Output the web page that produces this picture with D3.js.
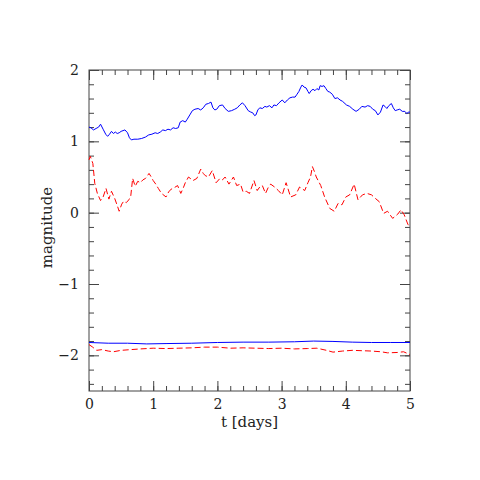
<!DOCTYPE html>
<html>
<head>
<meta charset="utf-8">
<style>
  body { margin: 0; background: #fff; }
  text { font-family: "DejaVu Serif", "Liberation Serif", serif; }
</style>
</head>
<body>
<svg id="chart" width="480" height="480"></svg>
<script src="https://cdnjs.cloudflare.com/ajax/libs/d3/7.8.5/d3.min.js"></script>
<script>
// upper blue curve
var blueTopT = [0, 0.03, 0.07, 0.11, 0.15, 0.18, 0.22, 0.26, 0.29, 0.32, 0.35, 0.38, 0.41, 0.44, 0.47, 0.5, 0.53, 0.56, 0.6, 0.63, 0.66, 0.7, 0.76, 0.82, 0.88, 0.93, 0.98, 1.03, 1.07, 1.11, 1.15, 1.19, 1.23, 1.27, 1.31, 1.35, 1.39, 1.42, 1.46, 1.5, 1.53, 1.57, 1.61, 1.65, 1.7, 1.74, 1.78, 1.82, 1.86, 1.9, 1.93, 1.96, 1.99, 2.03, 2.08, 2.12, 2.17, 2.22, 2.27, 2.31, 2.35, 2.39, 2.43, 2.48, 2.52, 2.55, 2.58, 2.6, 2.63, 2.66, 2.7, 2.74, 2.77, 2.81, 2.85, 2.88, 2.92, 2.96, 3.01, 3.05, 3.09, 3.13, 3.17, 3.21, 3.24, 3.27, 3.3, 3.32, 3.35, 3.38, 3.41, 3.43, 3.46, 3.49, 3.52, 3.55, 3.58, 3.6, 3.63, 3.66, 3.69, 3.72, 3.75, 3.79, 3.83, 3.87, 3.91, 3.95, 4.01, 4.06, 4.11, 4.16, 4.21, 4.25, 4.3, 4.34, 4.38, 4.42, 4.46, 4.5, 4.54, 4.58, 4.61, 4.64, 4.67, 4.71, 4.74, 4.77, 4.8, 4.84, 4.88, 4.92, 4.95, 4.98, 5];
var blueTopM = [1.2, 1.19, 1.16, 1.18, 1.2, 1.24, 1.17, 1.1, 1.07, 1.1, 1.14, 1.11, 1.13, 1.11, 1.12, 1.14, 1.15, 1.16, 1.12, 1.05, 1.02, 1.03, 1.03, 1.04, 1.06, 1.09, 1.1, 1.12, 1.11, 1.13, 1.16, 1.15, 1.17, 1.16, 1.19, 1.18, 1.19, 1.27, 1.29, 1.27, 1.31, 1.37, 1.43, 1.45, 1.46, 1.44, 1.47, 1.52, 1.53, 1.55, 1.47, 1.44, 1.45, 1.5, 1.51, 1.46, 1.42, 1.43, 1.45, 1.47, 1.51, 1.54, 1.5, 1.43, 1.41, 1.4, 1.36, 1.37, 1.44, 1.47, 1.46, 1.49, 1.48, 1.5, 1.47, 1.51, 1.5, 1.54, 1.58, 1.54, 1.58, 1.61, 1.62, 1.62, 1.66, 1.7, 1.76, 1.79, 1.76, 1.75, 1.7, 1.67, 1.71, 1.73, 1.71, 1.74, 1.72, 1.78, 1.77, 1.78, 1.74, 1.7, 1.69, 1.66, 1.6, 1.61, 1.58, 1.56, 1.51, 1.49, 1.45, 1.42, 1.45, 1.49, 1.48, 1.5, 1.49, 1.45, 1.43, 1.37, 1.41, 1.51, 1.49, 1.46, 1.5, 1.53, 1.47, 1.43, 1.44, 1.45, 1.42, 1.42, 1.39, 1.41, 1.41];

// middle red curve (dashed)
var redMidT = [0, 0.02, 0.06, 0.09, 0.13, 0.18, 0.22, 0.265, 0.31, 0.35, 0.38, 0.4, 0.44, 0.47, 0.51, 0.54, 0.58, 0.62, 0.65, 0.68, 0.72, 0.76, 0.8, 0.84, 0.88, 0.935, 0.97, 1.0, 1.04, 1.08, 1.13, 1.2, 1.24, 1.28, 1.31, 1.38, 1.43, 1.47, 1.5, 1.55, 1.62, 1.68, 1.74, 1.78, 1.81, 1.86, 1.92, 1.98, 2.04, 2.08, 2.12, 2.18, 2.25, 2.3, 2.36, 2.4, 2.45, 2.5, 2.57, 2.62, 2.66, 2.7, 2.75, 2.79, 2.83, 2.89, 2.95, 3.01, 3.07, 3.14, 3.22, 3.28, 3.36, 3.41, 3.45, 3.48, 3.51, 3.54, 3.61, 3.67, 3.75, 3.82, 3.88, 3.94, 4.0, 4.06, 4.13, 4.19, 4.26, 4.33, 4.4, 4.46, 4.52, 4.59, 4.65, 4.73, 4.81, 4.86, 4.91, 4.97, 5];
var redMidM = [0.74, 0.79, 0.69, 0.41, 0.27, 0.17, 0.22, 0.34, 0.19, 0.3, 0.24, 0.2, 0.1, 0.02, 0.12, 0.16, 0.14, 0.18, 0.23, 0.48, 0.37, 0.44, 0.42, 0.46, 0.48, 0.55, 0.5, 0.45, 0.4, 0.34, 0.27, 0.22, 0.29, 0.33, 0.34, 0.38, 0.27, 0.35, 0.42, 0.5, 0.45, 0.48, 0.61, 0.55, 0.52, 0.5, 0.59, 0.42, 0.48, 0.46, 0.5, 0.4, 0.5, 0.38, 0.4, 0.29, 0.3, 0.27, 0.45, 0.31, 0.36, 0.38, 0.27, 0.35, 0.4, 0.36, 0.31, 0.25, 0.42, 0.22, 0.25, 0.36, 0.31, 0.42, 0.5, 0.645, 0.58, 0.5, 0.38, 0.22, 0.06, 0.02, 0.13, 0.11, 0.22, 0.25, 0.4, 0.18, 0.25, 0.27, 0.25, 0.2, 0.155, -0.01, 0.02, -0.08, -0.02, 0.04, -0.03, -0.17, -0.18];

// lower blue curve
var blueLowT = [0, 0.3, 0.6, 0.9, 1.2, 1.6, 2.0, 2.4, 2.8, 3.2, 3.5, 3.8, 4.1, 4.4, 4.7, 5];
var blueLowM = [-1.82, -1.83, -1.83, -1.84, -1.835, -1.83, -1.82, -1.815, -1.815, -1.81, -1.8, -1.805, -1.815, -1.82, -1.82, -1.82];

// lower red curve (dashed)
var redLowT = [0, 0.05, 0.12, 0.2, 0.3, 0.38, 0.5, 0.65, 0.8, 1.0, 1.2, 1.4, 1.6, 1.8, 2.0, 2.2, 2.4, 2.6, 2.8, 3.0, 3.2, 3.4, 3.55, 3.7, 3.8, 3.95, 4.1, 4.25, 4.4, 4.55, 4.65, 4.8, 4.9, 5];
var redLowM = [-1.85, -1.88, -1.93, -1.92, -1.94, -1.95, -1.93, -1.92, -1.91, -1.9, -1.905, -1.9, -1.895, -1.885, -1.885, -1.9, -1.895, -1.9, -1.905, -1.9, -1.91, -1.905, -1.9, -1.93, -1.955, -1.94, -1.93, -1.935, -1.94, -1.95, -1.965, -1.96, -1.95, -1.99];

var xTicks = [0, 1, 2, 3, 4, 5];
var yTicks = [-2, -1, 0, 1, 2];

var plotL = 89, plotR = 410, plotT = 70, plotB = 391;
var svg = d3.select('#chart');

var x = d3.scaleLinear().domain([0, 5]).range([plotL, plotR]);
var y = d3.scaleLinear().domain([-2.5, 2]).range([plotB, plotT]);

var minorX = d3.range(0, 5.001, 0.2);
var minorY = d3.range(-2.4, 2.001, 0.2);
var axisColor = '#444';

function fmt(d) {
  return d < 0 ? '\u2212' + Math.abs(d) : String(d);
}

function drawAxis(axis, tx) {
  var g = svg.append('g').attr('transform', tx).call(axis);
  g.select('.domain').remove();
  g.selectAll('line').attr('stroke', axisColor).attr('stroke-width', 1);
  g.selectAll('text').attr('fill', '#222').style('font-size', '14px')
    .style('font-family', '"DejaVu Serif", serif');
  return g;
}

// minor ticks, all four sides
drawAxis(d3.axisBottom(x).tickValues(minorX).tickSize(-5).tickFormat(''), 'translate(0,' + plotB + ')');
drawAxis(d3.axisTop(x).tickValues(minorX).tickSize(-5).tickFormat(''), 'translate(0,' + plotT + ')');
drawAxis(d3.axisLeft(y).tickValues(minorY).tickSize(-5).tickFormat(''), 'translate(' + plotL + ',0)');
drawAxis(d3.axisRight(y).tickValues(minorY).tickSize(-5).tickFormat(''), 'translate(' + plotR + ',0)');

// major ticks with labels
drawAxis(d3.axisBottom(x).tickValues(xTicks).tickSize(-10).tickPadding(8).tickFormat(fmt), 'translate(0,' + plotB + ')');
drawAxis(d3.axisTop(x).tickValues(xTicks).tickSize(-10).tickFormat(''), 'translate(0,' + plotT + ')');
drawAxis(d3.axisLeft(y).tickValues(yTicks).tickSize(-10).tickPadding(10).tickFormat(fmt), 'translate(' + plotL + ',0)');
drawAxis(d3.axisRight(y).tickValues(yTicks).tickSize(-10).tickFormat(''), 'translate(' + plotR + ',0)');

// frame
svg.append('rect')
  .attr('x', plotL).attr('y', plotT)
  .attr('width', plotR - plotL).attr('height', plotB - plotT)
  .attr('fill', 'none').attr('stroke', axisColor).attr('stroke-width', 1);

var line = d3.line()
  .x(function(d) { return x(d[0]); })
  .y(function(d) { return y(d[1]); });

function series(ts, ms, color, dash) {
  var pts = ts.map(function(t, i) { return [t, ms[i]]; });
  svg.append('path')
    .datum(pts)
    .attr('d', line)
    .attr('fill', 'none')
    .attr('stroke', color)
    .attr('stroke-width', 1)
    .attr('stroke-dasharray', dash);
}

series(blueTopT, blueTopM, '#0000ff', null);
series(redMidT, redMidM, '#ff0000', '6,3');
series(blueLowT, blueLowM, '#0000ff', null);
series(redLowT, redLowM, '#ff0000', '6,3');

// axis titles
svg.append('text')
  .attr('x', (plotL + plotR) / 2).attr('y', 427)
  .attr('text-anchor', 'middle')
  .attr('fill', '#222')
  .style('font-size', '15px')
  .text('t [days]');

svg.append('text')
  .attr('transform', 'translate(52,' + ((plotT + plotB) / 2 - 3) + ') rotate(-90)')
  .attr('text-anchor', 'middle')
  .attr('fill', '#222')
  .style('font-size', '15px')
  .text('magnitude');
</script>
</body>
</html>
